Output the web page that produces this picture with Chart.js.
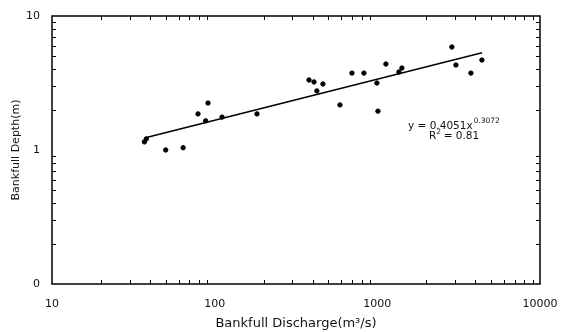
<!DOCTYPE html>
<html>
<head>
<meta charset="utf-8">
<script src="https://cdn.jsdelivr.net/npm/chart.js@4.4.0/dist/chart.umd.min.js"></script>
<style>
  html, body { margin: 0; padding: 0; background: #fff; }
  #wrap { width: 561px; height: 332px; }
</style>
</head>
<body>
<div id="wrap"><canvas id="depthChart" width="561" height="332"></canvas></div>
<script>
// bankfull discharge (m3/s) and bankfull depth (m)
let discharge = [37, 38, 50, 64, 79, 91, 88, 111, 182, 380, 408, 463, 425, 589, 698, 827, 1129, 994, 1009, 1416, 1357, 2873, 3042, 3761, 4395];
let depth = [1.15, 1.21, 1.00, 1.04, 1.86, 2.24, 1.65, 1.76, 1.86, 3.33, 3.22, 3.11, 2.76, 2.17, 3.75, 3.75, 4.38, 3.16, 1.95, 4.09, 3.82, 5.87, 4.31, 3.75, 4.69];

// power trendline end points
let trendX = [37, 4400];
let trendY = [1.23, 5.32];

let xTicks = [10, 100, 1000, 10000];
let yTicks = [0.1, 1, 10];
let yTickLabels = ['0', '1', '10'];

let equationText = 'y = 0.4051x';
let equationPower = '0.3072';
let rSquaredText = '0.81';

let points = discharge.map((q, i) => ({ x: q, y: depth[i] }));
let trend = trendX.map((q, i) => ({ x: q, y: trendY[i] }));

const FONT = "'DejaVu Sans', 'Liberation Sans', Arial, sans-serif";

// frame, inward tick marks and the fit equation
const frameAndTicks = {
  id: 'frameAndTicks',
  afterDraw(chart) {
    const ctx = chart.ctx;
    const a = chart.chartArea;
    const xs = chart.scales.x;
    const ys = chart.scales.y;
    ctx.save();
    ctx.strokeStyle = '#000';
    ctx.lineWidth = 1.5;
    ctx.strokeRect(a.left, a.top, a.right - a.left, a.bottom - a.top);

    ctx.lineWidth = 1;
    ctx.beginPath();
    for (let d = 10; d < 10000; d *= 10) {
      for (let m = 2; m < 10; m++) {
        let px = Math.round(xs.getPixelForValue(d * m)) + 0.5;
        ctx.moveTo(px, a.bottom); ctx.lineTo(px, a.bottom - 4);
        ctx.moveTo(px, a.top); ctx.lineTo(px, a.top + 4);
      }
    }
    for (let d = 0.1; d < 10; d *= 10) {
      for (let m = 2; m < 10; m++) {
        let py = Math.round(ys.getPixelForValue(d * m)) + 0.5;
        ctx.moveTo(a.left, py); ctx.lineTo(a.left + 4, py);
        ctx.moveTo(a.right, py); ctx.lineTo(a.right - 4, py);
      }
    }
    ctx.stroke();

    // equation
    ctx.fillStyle = '#111';
    ctx.textBaseline = 'alphabetic';
    ctx.textAlign = 'left';
    ctx.font = '10.5px ' + FONT;
    let ex = 408, ey = 129;
    ctx.fillText(equationText, ex, ey);
    let w = ctx.measureText(equationText).width;
    ctx.font = '7.5px ' + FONT;
    ctx.fillText(equationPower, ex + w + 1, ey - 6);

    ctx.font = '10.5px ' + FONT;
    let rx = 429, ry = 139;
    ctx.fillText('R', rx, ry);
    let rw = ctx.measureText('R').width;
    ctx.font = '7.5px ' + FONT;
    ctx.fillText('2', rx + rw, ry - 5);
    ctx.font = '10.5px ' + FONT;
    ctx.fillText(' = ' + rSquaredText, rx + rw + 4, ry);
    ctx.restore();
  }
};

new Chart(document.getElementById('depthChart'), {
  type: 'scatter',
  data: {
    datasets: [
      {
        type: 'line',
        data: trend,
        borderColor: '#000',
        borderWidth: 1.5,
        pointRadius: 0,
        fill: false
      },
      {
        type: 'scatter',
        data: points,
        backgroundColor: '#000',
        borderColor: '#000',
        pointRadius: 2.2,
        pointHoverRadius: 2.2
      }
    ]
  },
  options: {
    responsive: false,
    animation: false,
    devicePixelRatio: 1,
    layout: { padding: { top: 16, right: 21, left: 0, bottom: 0 } },
    plugins: {
      legend: { display: false },
      tooltip: { enabled: false }
    },
    scales: {
      x: {
        type: 'logarithmic',
        position: 'bottom',
        min: 10,
        max: 10000,
        afterBuildTicks: scale => { scale.ticks = xTicks.map(v => ({ value: v })); },
        afterFit: scale => {
          scale.height = 48;
          scale.paddingLeft = 0;
          scale.paddingRight = 0;
        },
        grid: { display: false, drawTicks: false },
        border: { display: false },
        ticks: {
          autoSkip: false,
          maxRotation: 0,
          padding: 14,
          color: '#111',
          font: { family: FONT, size: 11 },
          callback: v => String(v)
        },
        title: {
          display: true,
          text: 'Bankfull Discharge(m³/s)',
          color: '#111',
          font: { family: FONT, size: 13 },
          padding: { top: 0, bottom: 1 }
        }
      },
      y: {
        type: 'logarithmic',
        min: 0.1,
        max: 10,
        afterBuildTicks: scale => { scale.ticks = yTicks.map(v => ({ value: v })); },
        afterFit: scale => {
          scale.width = 52;
          scale.paddingTop = 0;
          scale.paddingBottom = 0;
        },
        grid: { display: false, drawTicks: false },
        border: { display: false },
        ticks: {
          autoSkip: false,
          padding: 12,
          color: '#111',
          font: { family: FONT, size: 11 },
          callback: (v, i) => yTickLabels[i]
        },
        title: {
          display: true,
          text: 'Bankfull Depth(m)',
          color: '#111',
          font: { family: FONT, size: 11 },
          padding: { top: 10, bottom: 0 }
        }
      }
    }
  },
  plugins: [frameAndTicks]
});
</script>
</body>
</html>
